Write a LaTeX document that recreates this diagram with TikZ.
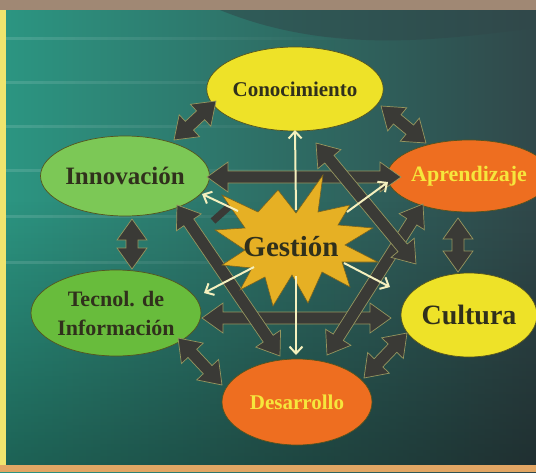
\documentclass[tikz,border=0pt]{standalone}
\usepackage{fontspec}
\setmainfont{Liberation Serif}
\usetikzlibrary{shapes.geometric,arrows.meta,calc,fadings}

\definecolor{tealA}{RGB}{44,150,130}
\definecolor{tealB}{RGB}{42,118,112}
\definecolor{tealC}{RGB}{48,72,74}
\definecolor{darkarr}{RGB}{58,58,54}
\definecolor{arredge}{RGB}{150,150,95}
\definecolor{cream}{RGB}{245,240,190}
\definecolor{ylw}{RGB}{238,226,40}
\definecolor{lgreen}{RGB}{124,200,86}
\definecolor{mgreen}{RGB}{104,188,60}
\definecolor{orng}{RGB}{238,110,32}
\definecolor{starc}{RGB}{230,176,36}
\definecolor{txtdark}{RGB}{48,48,28}
\definecolor{txtyel}{RGB}{246,230,60}
\definecolor{topbrown}{RGB}{160,136,116}
\definecolor{leftyel}{RGB}{240,228,110}
\definecolor{bottan}{RGB}{226,166,100}

\newcommand\hl{21pt}
\newcommand\hw{15pt}
\newcommand\sw{6pt}
\newcommand\bigarrow[2]{%
  \filldraw[darkarr, draw=arredge, line width=0.7pt, line join=miter] (#1)
  -- ($(#1)!\hl!(#2)!\hw!90:(#2)$)
  -- ($(#1)!\hl!(#2)!\sw!90:(#2)$)
  -- ($(#2)!\hl!(#1)!\sw!-90:(#1)$)
  -- ($(#2)!\hl!(#1)!\hw!-90:(#1)$)
  -- (#2)
  -- ($(#2)!\hl!(#1)!\hw!90:(#1)$)
  -- ($(#2)!\hl!(#1)!\sw!90:(#1)$)
  -- ($(#1)!\hl!(#2)!\sw!-90:(#2)$)
  -- ($(#1)!\hl!(#2)!\hw!-90:(#2)$)
  -- cycle;}

\begin{document}
\begin{tikzpicture}[x=1pt,y=-1pt,
  bub/.style={ellipse, draw=txtdark!80!ylw, line width=0.7pt, inner sep=0pt},
  whitearrow/.style={cream, line width=2pt, -{Straight Barb[length=7pt,width=13pt,line width=2pt]}},
  fa/.style={font=\fontsize{#1}{#1}\selectfont\bfseries}]
\useasboundingbox (0,0) rectangle (536,472);
% background
\shade[left color=tealA, middle color=tealB, right color=tealC] (0,0) rectangle (536,472);
\fill[black, opacity=0.35, path fading=north] (0,200) rectangle (536,472);
\fill[tealC, opacity=0.55] (220,10) .. controls (330,55) and (440,40) .. (536,28) -- (536,10) -- cycle;
\foreach \yy in {38,82,126,170,216,262} {
  \draw[white, opacity=0.13, line width=3pt, path fading=east] (6,\yy) -- (360,\yy);
}
\fill[topbrown] (0,0) rectangle (536,10);
\fill[leftyel] (0,10) rectangle (6,466);
\fill[bottan] (0,465) rectangle (536,472);

% ellipses
\node[bub, fill=ylw, minimum width=154pt, minimum height=84pt, text=txtdark, fa=21] (cono) at (295,89) {Conocimiento};
\node[bub, fill=lgreen, minimum width=144pt, minimum height=80pt, text=txtdark, fa=25] (inno) at (125,176) {Innovación};
\node[bub, fill=orng, minimum width=136pt, minimum height=72pt, text=txtyel, fa=22] (apre) at (469,176) {Aprendizaje};
\node[bub, fill=mgreen, minimum width=170pt, minimum height=86pt, text=txtdark, fa=22, align=center, font=\fontsize{22}{29}\selectfont\bfseries] (tecn) at (116,313) {Tecnol. de\\Información};
\node[bub, fill=ylw, minimum width=136pt, minimum height=84pt, text=txtdark, fa=28] (cult) at (469,315) {Cultura};
\node[bub, fill=orng, minimum width=150pt, minimum height=86pt, text=txtyel, fa=21] (desa) at (297,402) {Desarrollo};

% arrow end points
\coordinate (p1a) at (174,140); \coordinate (p1b) at (216,101);
\coordinate (p2a) at (381,106); \coordinate (p2b) at (426,143);
\coordinate (p3a) at (207,177); \coordinate (p3b) at (401,177);
\coordinate (p4a) at (132,219); \coordinate (p4b) at (132,269);
\coordinate (p5a) at (458,218); \coordinate (p5b) at (458,272);
\coordinate (p6a) at (202,318); \coordinate (p6b) at (391,318);
\coordinate (p7a) at (178,338); \coordinate (p7b) at (222,385);
\coordinate (p8a) at (407,333); \coordinate (p8b) at (364,378);
\coordinate (p9a) at (177,205); \coordinate (p9b) at (280,356);
\coordinate (q1a) at (423,204); \coordinate (q1b) at (327,355);
\coordinate (q2a) at (316,143); \coordinate (q2b) at (416,264);

\bigarrow{p1a}{p1b}
\bigarrow{p2a}{p2b}
\bigarrow{p3a}{p3b}
\bigarrow{p4a}{p4b}
\bigarrow{p5a}{p5b}
\bigarrow{p6a}{p6b}
\bigarrow{p7a}{p7b}
\bigarrow{p8a}{p8b}
\bigarrow{p9a}{p9b}
\bigarrow{q1a}{q1b}
\bigarrow{q2a}{q2b}
\coordinate (s1) at (213,221); \coordinate (s2) at (232,204);
\draw[darkarr, line width=7pt] (s1) -- (s2);

% star
\filldraw[starc, draw=txtdark!60!starc, line width=0.6pt, line join=miter]
 (323,175) -- (318,212) -- (350,205) -- (338,225) -- (373,228) -- (345,245)
 -- (378,262) -- (342,262) -- (350,287) -- (322,272) -- (308,303) -- (292,275)
 -- (273,306) -- (265,277) -- (240,290) -- (252,268) -- (222,265) -- (245,250)
 -- (215,230) -- (245,228) -- (222,195) -- (258,212) -- (278,190) -- (296,213) -- cycle;

% white arrows
\coordinate (w1s) at (296,210); \coordinate (w1e) at (295,130);
\coordinate (w2s) at (296,276); \coordinate (w2e) at (296,355);
\coordinate (w3s) at (238,211); \coordinate (w3e) at (202,194);
\coordinate (w4s) at (347,212); \coordinate (w4e) at (388,182);
\coordinate (w5s) at (254,267); \coordinate (w5e) at (204,293);
\coordinate (w6s) at (344,263); \coordinate (w6e) at (390,287);
\draw[whitearrow] (w1s) -- (w1e);
\draw[whitearrow] (w2s) -- (w2e);
\draw[whitearrow] (w3s) -- (w3e);
\draw[whitearrow] (w4s) -- (w4e);
\draw[whitearrow] (w5s) -- (w5e);
\draw[whitearrow] (w6s) -- (w6e);

\node[text=txtdark, fa=29] (gest) at (291,247) {Gestión};
\end{tikzpicture}
\end{document}
